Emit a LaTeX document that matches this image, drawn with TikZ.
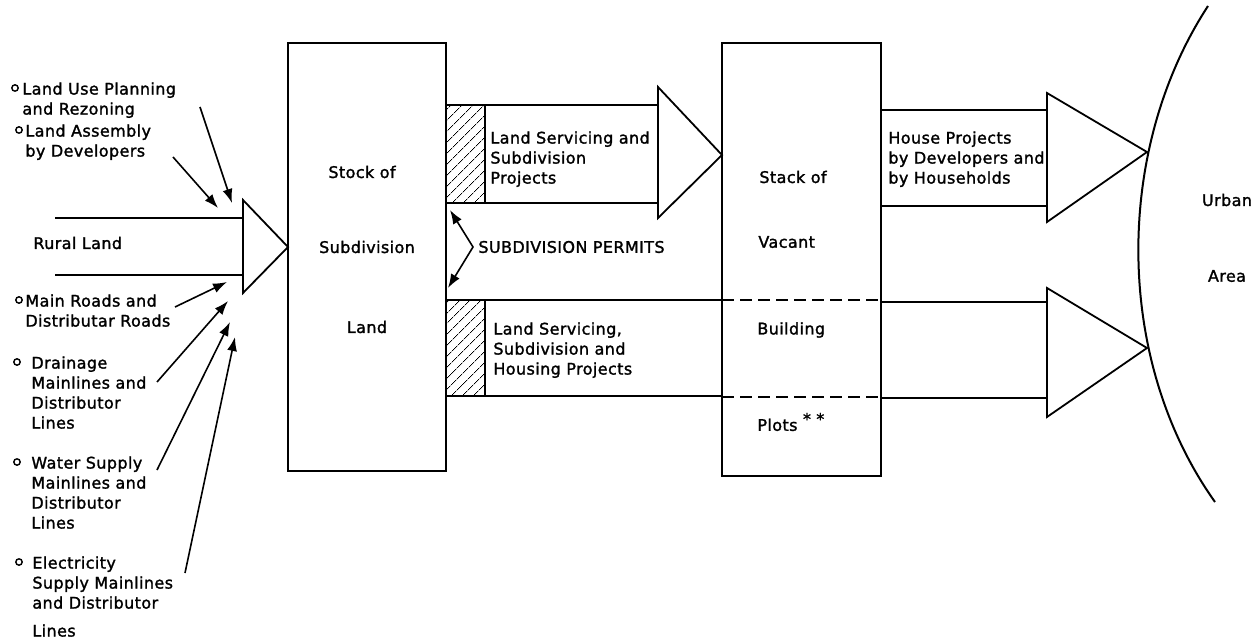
\documentclass[tikz,border=0pt]{standalone}
\usepackage{fontspec}
\setmainfont{DejaVu Sans}[LetterSpace=2.5, FakeBold=1.5]
\usetikzlibrary{arrows.meta,patterns.meta}

\begin{document}
\begin{tikzpicture}[x=0.5pt, y=-0.5pt,
  box/.style={draw, rectangle, line width=0.9pt, inner sep=0pt},
  txt/.style={anchor=west, inner sep=0pt, font=\fontsize{8}{10}\selectfont},
  ctxt/.style={inner sep=0pt, font=\fontsize{8}{10}\selectfont},
  lbl/.style={anchor=north west, align=left, inner sep=0pt, font=\fontsize{8}{10}\selectfont},
  band/.style={line width=0.8pt},
  tri/.style={line width=0.9pt, line join=miter},
  arr/.style={-{Latex[length=7pt,width=5pt]}, line width=0.8pt},
  dblarr/.style={{Latex[length=7pt,width=5pt]}-{Latex[length=7pt,width=5pt]}, line width=0.8pt},
  hatch/.style={draw, line width=0.8pt, pattern={Lines[angle=45,distance=4pt,line width=0.4pt]}},
  bullet/.style={draw, circle, line width=0.7pt, minimum size=3.2pt, inner sep=0pt}
]
\useasboundingbox (0,0) rectangle (1255,642);

% stocks
\node[box, minimum width=79pt, minimum height=214pt] (subland) at (367,257) {};
\node[box, minimum width=79.5pt, minimum height=216.5pt] (vacant) at (801.5,259.5) {};

\node[ctxt] (sl1) at (362,172) {Stock of};
\node[ctxt] (sl2) at (367,247) {Subdivision};
\node[ctxt] (sl3) at (367,327) {Land};

\node[txt] (vp1) at (759,177) {Stack of};
\node[txt] (vp2) at (758,242) {Vacant};
\node[txt] (vp3) at (757,330) {Building};
\node[txt] (vp4) at (757,422) {Plots \raisebox{3pt}{*\,\,*}};
\draw[band, dash pattern=on 6pt off 3pt] (722,300) -- (881,300);
\draw[band, dash pattern=on 6pt off 3pt] (722,397) -- (881,397);

% inflow of rural land
\draw[band] (55,218) -- (243,218);
\draw[band] (55,275) -- (243,275);
\node[txt] (rural) at (33,243) {Rural Land};
\coordinate (t1a) at (243,200);
\coordinate (t1b) at (243,293);
\coordinate (t1c) at (288,247);
\draw[tri] (t1a) -- (t1c) -- (t1b) -- cycle;

% inputs
\node[bullet] (b1) at (15,88) {};
\node[lbl] (in1) at (22,82) {Land Use Planning\\and Rezoning};
\node[bullet] (b2) at (19,130) {};
\node[lbl] (in2) at (25,124) {Land Assembly\\by Developers};
\node[bullet] (b3) at (19,300) {};
\node[lbl] (in3) at (25,294) {Main Roads and\\Distributar Roads};
\node[bullet] (b4) at (17,362) {};
\node[lbl] (in4) at (31,356) {Drainage\\Mainlines and\\Distributor\\Lines};
\node[bullet] (b5) at (17,462) {};
\node[lbl] (in5) at (31,456) {Water Supply\\Mainlines and\\Distributor\\Lines};
\node[bullet] (b6) at (19,562) {};
\node[lbl] (in6) at (32,556) {Electricity\\Supply Mainlines\\and Distributor\\[4pt]Lines};

\coordinate (a1s) at (200,107); \coordinate (a1e) at (232,203);
\coordinate (a2s) at (173,157); \coordinate (a2e) at (218,208);
\coordinate (a3s) at (175,307); \coordinate (a3e) at (227,282);
\coordinate (a4s) at (157,382); \coordinate (a4e) at (228,301);
\coordinate (a5s) at (157,470); \coordinate (a5e) at (230,322);
\coordinate (a6s) at (185,573); \coordinate (a6e) at (235,337);
\foreach \i in {1,...,6}
  \draw[arr] (a\i s) -- (a\i e);

% projects
\draw[hatch] (446,105) rectangle (485,203);
\draw[hatch] (446,300) rectangle (485,396);
\draw[band] (485,105) -- (658,105);
\draw[band] (485,203) -- (658,203);
\coordinate (t2a) at (658,87);
\coordinate (t2b) at (658,218);
\coordinate (t2c) at (722,155);
\draw[tri] (t2a) -- (t2c) -- (t2b) -- cycle;
\node[lbl] (pr1) at (490,131) {Land Servicing and\\Subdivision\\Projects};

\draw[band] (485,300) -- (722,300);
\draw[band] (485,396) -- (722,396);
\node[lbl] (pr2) at (493,322) {Land Servicing,\\Subdivision and\\Housing Projects};

\coordinate (pm1) at (450,210);
\coordinate (pm2) at (473,247);
\coordinate (pm3) at (448,288);
\draw[dblarr] (pm1) -- (pm2) -- (pm3);
\node[txt] (permit) at (478,247) {SUBDIVISION PERMITS};

% to the urban area
\draw[band] (881,110) -- (1047,110);
\draw[band] (881,206) -- (1047,206);
\node[lbl] (hp) at (888,131) {House Projects\\by Developers and\\by Households};
\coordinate (t3a) at (1047,93);
\coordinate (t3b) at (1047,222);
\coordinate (t3c) at (1147,152);
\draw[tri] (t3a) -- (t3c) -- (t3b) -- cycle;

\draw[band] (881,302) -- (1047,302);
\draw[band] (881,398) -- (1047,398);
\coordinate (t4a) at (1047,288);
\coordinate (t4b) at (1047,417);
\coordinate (t4c) at (1147,348);
\draw[tri] (t4a) -- (t4c) -- (t4b) -- cycle;

\draw[line width=1pt] (1208,6) .. controls (1114,150) and (1114,360) .. (1215,502);
\node[ctxt] (urb1) at (1227,200) {Urban};
\node[ctxt] (urb2) at (1227,276) {Area};
\end{tikzpicture}
\end{document}
